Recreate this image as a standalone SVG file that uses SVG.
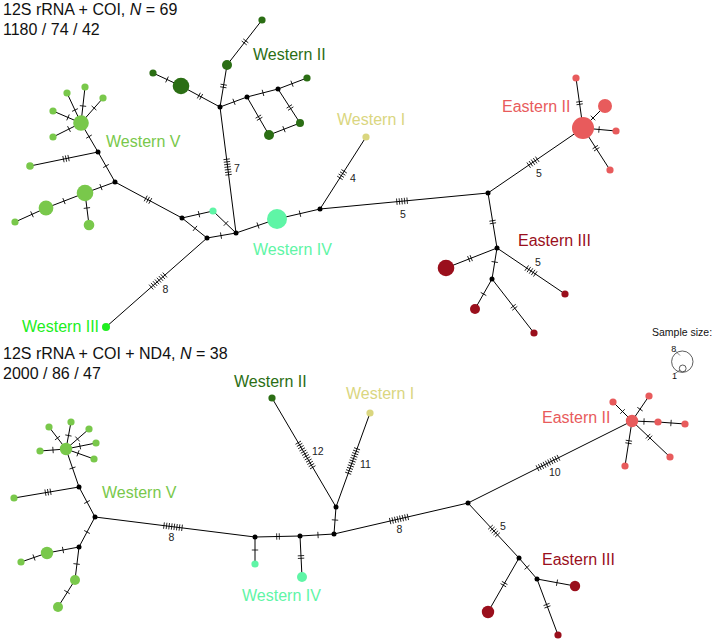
<svg xmlns="http://www.w3.org/2000/svg" xmlns:xlink="http://www.w3.org/1999/xlink" width="717" height="642" viewBox="0 0 717 642">
<style>
text{font-family:"Liberation Sans",Arial,sans-serif}
.title{font-size:16px;fill:#111}
.lab{font-size:16px}
.num{font-size:10.5px;fill:#222}
.edge{stroke:#000;stroke-width:1;fill:none}
.tk{stroke:#000;stroke-width:0.8;fill:none}
.j{fill:#000}
.wv{fill:#79c84b}.wii{fill:#2b6e14}.wi{fill:#dad67f}.wiv{fill:#5ff5a6}.wiii{fill:#20ee20}.eii{fill:#e85b5c}.eiii{fill:#9a0f1c}
</style>
<defs>
<path id="t1" class="tk" d="M0,-3.2V3.2"/>
<path id="t2" class="tk" d="M-1.3,-3.2V3.2M1.3,-3.2V3.2"/>
<path id="t3" class="tk" d="M-2.6,-3.2V3.2M0,-3.2V3.2M2.6,-3.2V3.2"/>
<path id="t4" class="tk" d="M-3.9,-3.2V3.2M-1.3,-3.2V3.2M1.3,-3.2V3.2M3.9,-3.2V3.2"/>
<path id="t5" class="tk" d="M-5.2,-3.2V3.2M-2.6,-3.2V3.2M0,-3.2V3.2M2.6,-3.2V3.2M5.2,-3.2V3.2"/>
<path id="t7" class="tk" d="M-7.8,-3.2V3.2M-5.2,-3.2V3.2M-2.6,-3.2V3.2M0,-3.2V3.2M2.6,-3.2V3.2M5.2,-3.2V3.2M7.8,-3.2V3.2"/>
<path id="t8" class="tk" d="M-9.1,-3.2V3.2M-6.5,-3.2V3.2M-3.9,-3.2V3.2M-1.3,-3.2V3.2M1.3,-3.2V3.2M3.9,-3.2V3.2M6.5,-3.2V3.2M9.1,-3.2V3.2"/>
<path id="t10" class="tk" d="M-11.7,-3.2V3.2M-9.1,-3.2V3.2M-6.5,-3.2V3.2M-3.9,-3.2V3.2M-1.3,-3.2V3.2M1.3,-3.2V3.2M3.9,-3.2V3.2M6.5,-3.2V3.2M9.1,-3.2V3.2M11.7,-3.2V3.2"/>
<path id="t11" class="tk" d="M-13,-3.2V3.2M-10.4,-3.2V3.2M-7.8,-3.2V3.2M-5.2,-3.2V3.2M-2.6,-3.2V3.2M0,-3.2V3.2M2.6,-3.2V3.2M5.2,-3.2V3.2M7.8,-3.2V3.2M10.4,-3.2V3.2M13,-3.2V3.2"/>
<path id="t12" class="tk" d="M-14.3,-3.2V3.2M-11.7,-3.2V3.2M-9.1,-3.2V3.2M-6.5,-3.2V3.2M-3.9,-3.2V3.2M-1.3,-3.2V3.2M1.3,-3.2V3.2M3.9,-3.2V3.2M6.5,-3.2V3.2M9.1,-3.2V3.2M11.7,-3.2V3.2M14.3,-3.2V3.2"/>
</defs>
<rect width="717" height="642" fill="#fff"/>

<g id="titles">
<text class="title" x="3" y="15">12S rRNA + COI, <tspan font-style="italic">N</tspan> = 69</text>
<text class="title" x="3" y="35">1180 / 74 / 42</text>
<text class="title" x="3" y="359">12S rRNA + COI + ND4, <tspan font-style="italic">N</tspan> = 38</text>
<text class="title" x="3" y="379">2000 / 86 / 47</text>
</g>

<g id="connectors">
<path class="edge" d="M81,123L67,93M81,123L85,87M81,123L103,98M81,123L53,111M81,123L53,137M81,123L98,152M98,152L30,166M98,152L115,182M115,182L85,193M85,193L46,208M46,208L15,222M85,193L89,225M115,182L182,218M182,218L213,211M182,218L207,238M213,211L236,233M207,238L236,233M207,238L106,327M236,233L220,107M220,107L227,65M227,65L262,20M220,107L181,86M181,86L153,73M220,107L247,97M247,97L278,89M278,89L307,78M278,89L300,123M300,123L269,135M247,97L269,135M236,233L277,219M277,219L320,209M320,209L366,137M320,209L488,193M488,193L583,128M583,128L576,78M583,128L605,106M583,128L616,131M583,128L610,170M488,193L497,248M497,248L446,268M497,248L492,279M497,248L565,294M492,279L475,309M492,279L534,333"/>
<path class="edge" d="M66,449L49,427M66,449L71,422M66,449L89,429M66,449L96,443M66,449L94,459M66,449L40,451M66,449L79,487M79,487L14,498M79,487L95,517M95,517L79,547M79,547L47,553M47,553L21,562M79,547L75,580M75,580L58,607M95,517L255,537M255,537L255,564M255,537L300,536M300,536L302,577M300,536L334,534M334,534L336,507M336,507L272,398M336,507L370,413M334,534L468,503M468,503L632,421M632,421L613,402M632,421L649,396M632,421L658,422M658,422L685,424M632,421L670,457M632,421L625,466M468,503L519,558M519,558L537,579M537,579L575,586M519,558L488,612M537,579L558,635"/>
<g id="ticks-top">
<use href="#t1" transform="translate(75,110) rotate(-115)"/>
<use href="#t1" transform="translate(83,106) rotate(-83.7)"/>
<use href="#t1" transform="translate(94,108) rotate(-48.7)"/>
<use href="#t1" transform="translate(68,117.4) rotate(23)"/>
<use href="#t1" transform="translate(69,129) rotate(-26.6)"/>
<use href="#t1" transform="translate(89,136.6) rotate(59.6)"/>
<use href="#t3" transform="translate(66,158.6) rotate(-11.6)"/>
<use href="#t1" transform="translate(106,166) rotate(60.5)"/>
<use href="#t1" transform="translate(101,187.1) rotate(-20.1)"/>
<use href="#t1" transform="translate(64,201.1) rotate(-21)"/>
<use href="#t1" transform="translate(32,214.3) rotate(-24.3)"/>
<use href="#t1" transform="translate(86.9,208) rotate(82.9)"/>
<use href="#t3" transform="translate(148,199.7) rotate(28.2)"/>
<use href="#t1" transform="translate(199,214.2) rotate(-12.7)"/>
<use href="#t1" transform="translate(195,228.4) rotate(38.7)"/>
<use href="#t1" transform="translate(226,223.4) rotate(43.7)"/>
<use href="#t1" transform="translate(221,235.6) rotate(-9.8)"/>
<use href="#t8" transform="translate(158,281) rotate(-41.4)"/>
<use href="#t7" transform="translate(227.6,167) rotate(82.8)"/>
<use href="#t2" transform="translate(223.5,86) rotate(-80.5)"/>
<use href="#t2" transform="translate(245,41.9) rotate(-52.1)"/>
<use href="#t2" transform="translate(200,96.2) rotate(28.3)"/>
<use href="#t1" transform="translate(167,79.5) rotate(24.9)"/>
<use href="#t1" transform="translate(234,101.8) rotate(-20.3)"/>
<use href="#t1" transform="translate(263,92.9) rotate(-14.5)"/>
<use href="#t1" transform="translate(292,83.7) rotate(-20.8)"/>
<use href="#t2" transform="translate(290,107.5) rotate(57.1)"/>
<use href="#t1" transform="translate(284,129.2) rotate(-21.2)"/>
<use href="#t2" transform="translate(259,117.7) rotate(59.9)"/>
<use href="#t1" transform="translate(258,225.5) rotate(-18.9)"/>
<use href="#t1" transform="translate(300,213.7) rotate(-13.1)"/>
<use href="#t4" transform="translate(342,174.6) rotate(-57.4)"/>
<use href="#t5" transform="translate(402,201.2) rotate(-5.4)"/>
<use href="#t5" transform="translate(533,162.2) rotate(-34.4)"/>
<use href="#t2" transform="translate(579.5,103) rotate(82)"/>
<use href="#t1" transform="translate(593,118) rotate(-45)"/>
<use href="#t1" transform="translate(599,129.5) rotate(5.2)"/>
<use href="#t2" transform="translate(596,148.2) rotate(57.3)"/>
<use href="#t2" transform="translate(492.7,222) rotate(80.7)"/>
<use href="#t2" transform="translate(470,258.6) rotate(-21.4)"/>
<use href="#t1" transform="translate(494.7,262) rotate(99.2)"/>
<use href="#t5" transform="translate(531,271) rotate(34.1)"/>
<use href="#t1" transform="translate(483.5,294) rotate(119.5)"/>
<use href="#t2" transform="translate(514,307.3) rotate(52.1)"/>
</g>
<g id="ticks-bottom">
<use href="#t1" transform="translate(57.5,438) rotate(52.3)"/>
<use href="#t1" transform="translate(68.4,435.5) rotate(-79.5)"/>
<use href="#t1" transform="translate(77.5,439) rotate(-41)"/>
<use href="#t1" transform="translate(80,446.2) rotate(-11.3)"/>
<use href="#t1" transform="translate(78,453.3) rotate(19.7)"/>
<use href="#t1" transform="translate(53,450) rotate(-4.4)"/>
<use href="#t1" transform="translate(72.5,468) rotate(71.1)"/>
<use href="#t3" transform="translate(48,492.2) rotate(-9.6)"/>
<use href="#t1" transform="translate(87,502) rotate(61.9)"/>
<use href="#t1" transform="translate(87,532) rotate(118.1)"/>
<use href="#t1" transform="translate(63,550) rotate(-10.6)"/>
<use href="#t1" transform="translate(34,557.5) rotate(-19.1)"/>
<use href="#t1" transform="translate(76.6,564) rotate(96.9)"/>
<use href="#t1" transform="translate(67,592) rotate(122.2)"/>
<use href="#t8" transform="translate(173,526.7) rotate(7.1)"/>
<use href="#t1" transform="translate(255,550) rotate(90)"/>
<use href="#t2" transform="translate(278,536.5) rotate(-1.3)"/>
<use href="#t2" transform="translate(301,557) rotate(87.2)"/>
<use href="#t1" transform="translate(318,535) rotate(-3.4)"/>
<use href="#t1" transform="translate(335,520) rotate(-85.8)"/>
<use href="#t12" transform="translate(305.5,455) rotate(59.6)"/>
<use href="#t11" transform="translate(352.6,461) rotate(-70.1)"/>
<use href="#t8" transform="translate(399,519) rotate(-13)"/>
<use href="#t10" transform="translate(548,463) rotate(-26.6)"/>
<use href="#t1" transform="translate(622.5,411.5) rotate(45)"/>
<use href="#t1" transform="translate(640,409.2) rotate(-55.8)"/>
<use href="#t1" transform="translate(644,421.5) rotate(2.2)"/>
<use href="#t1" transform="translate(671,423) rotate(4.2)"/>
<use href="#t2" transform="translate(649,437.1) rotate(43.5)"/>
<use href="#t2" transform="translate(628.7,442) rotate(98.8)"/>
<use href="#t5" transform="translate(494,531) rotate(47.2)"/>
<use href="#t1" transform="translate(527,567.3) rotate(49.4)"/>
<use href="#t1" transform="translate(557,582.7) rotate(10.4)"/>
<use href="#t2" transform="translate(504,584.1) rotate(119.9)"/>
<use href="#t2" transform="translate(547,605.7) rotate(69.4)"/>
</g>
</g>

<g id="nodes-top">
<g id="t-wv-hub"><circle class="wv" cx="81" cy="123" r="7.8"/></g>
<g id="t-wv-1"><circle class="wv" cx="67" cy="93" r="3.6"/></g>
<g id="t-wv-2"><circle class="wv" cx="85" cy="87" r="3.6"/></g>
<g id="t-wv-3"><circle class="wv" cx="103" cy="98" r="3.6"/></g>
<g id="t-wv-4"><circle class="wv" cx="53" cy="111" r="3.6"/></g>
<g id="t-wv-5"><circle class="wv" cx="53" cy="137" r="3.6"/></g>
<g id="t-wv-6"><circle class="wv" cx="30" cy="166" r="3.8"/></g>
<g id="t-wv-7"><circle class="wv" cx="85" cy="193" r="8.3"/></g>
<g id="t-wv-8"><circle class="wv" cx="46" cy="208" r="7.4"/></g>
<g id="t-wv-9"><circle class="wv" cx="15" cy="222" r="3.6"/></g>
<g id="t-wv-10"><circle class="wv" cx="89" cy="225" r="5.3"/></g>
<g id="t-wii-1"><circle class="wii" cx="262" cy="20" r="3.6"/></g>
<g id="t-wii-2"><circle class="wii" cx="227" cy="65" r="5"/></g>
<g id="t-wii-3"><circle class="wii" cx="181" cy="86" r="8.3"/></g>
<g id="t-wii-4"><circle class="wii" cx="153" cy="73" r="3.6"/></g>
<g id="t-wii-5"><circle class="wii" cx="307" cy="78" r="3.6"/></g>
<g id="t-wii-6"><circle class="wii" cx="300" cy="123" r="4"/></g>
<g id="t-wii-7"><circle class="wii" cx="269" cy="135" r="5"/></g>
<g id="t-wiv-1"><circle class="wiv" cx="213" cy="211" r="3.6"/></g>
<g id="t-wiv-2"><circle class="wiv" cx="277" cy="219" r="10"/></g>
<g id="t-wi-1"><circle class="wi" cx="366" cy="137" r="3.6"/></g>
<g id="t-wiii-1"><circle class="wiii" cx="106" cy="327" r="4"/></g>
<g id="t-eii-hub"><circle class="eii" cx="583" cy="128" r="11"/></g>
<g id="t-eii-1"><circle class="eii" cx="576" cy="78" r="3.6"/></g>
<g id="t-eii-2"><circle class="eii" cx="605" cy="106" r="7"/></g>
<g id="t-eii-3"><circle class="eii" cx="616" cy="131" r="3.6"/></g>
<g id="t-eii-4"><circle class="eii" cx="610" cy="170" r="3.6"/></g>
<g id="t-eiii-1"><circle class="eiii" cx="446" cy="268" r="8.3"/></g>
<g id="t-eiii-2"><circle class="eiii" cx="475" cy="309" r="5"/></g>
<g id="t-eiii-3"><circle class="eiii" cx="534" cy="333" r="3.6"/></g>
<g id="t-eiii-4"><circle class="eiii" cx="565" cy="294" r="3.6"/></g>
<g id="t-junctions">
<circle class="j" cx="98" cy="152" r="2.5"/><circle class="j" cx="115" cy="182" r="2.5"/><circle class="j" cx="182" cy="218" r="2.5"/><circle class="j" cx="207" cy="238" r="2.5"/><circle class="j" cx="236" cy="233" r="2.5"/><circle class="j" cx="220" cy="107" r="2.5"/><circle class="j" cx="247" cy="97" r="2.5"/><circle class="j" cx="278" cy="89" r="2.5"/><circle class="j" cx="320" cy="209" r="2.5"/><circle class="j" cx="488" cy="193" r="2.5"/><circle class="j" cx="497" cy="248" r="2.5"/><circle class="j" cx="492" cy="279" r="2.5"/>
</g>
</g>

<g id="nodes-bottom">
<g id="b-wv-hub"><circle class="wv" cx="66" cy="449" r="6.2"/></g>
<g id="b-wv-1"><circle class="wv" cx="49" cy="427" r="3.6"/></g>
<g id="b-wv-2"><circle class="wv" cx="71" cy="422" r="3.6"/></g>
<g id="b-wv-3"><circle class="wv" cx="89" cy="429" r="3.6"/></g>
<g id="b-wv-4"><circle class="wv" cx="96" cy="443" r="3.6"/></g>
<g id="b-wv-5"><circle class="wv" cx="94" cy="459" r="3.6"/></g>
<g id="b-wv-6"><circle class="wv" cx="40" cy="451" r="3.6"/></g>
<g id="b-wv-7"><circle class="wv" cx="14" cy="498" r="3.6"/></g>
<g id="b-wv-8"><circle class="wv" cx="47" cy="553" r="6.2"/></g>
<g id="b-wv-9"><circle class="wv" cx="21" cy="562" r="3.6"/></g>
<g id="b-wv-10"><circle class="wv" cx="75" cy="580" r="5"/></g>
<g id="b-wv-11"><circle class="wv" cx="58" cy="607" r="5"/></g>
<g id="b-wiv-1"><circle class="wiv" cx="255" cy="564" r="3.6"/></g>
<g id="b-wiv-2"><circle class="wiv" cx="302" cy="577" r="5"/></g>
<g id="b-wii-1"><circle class="wii" cx="272" cy="398" r="3.6"/></g>
<g id="b-wi-1"><circle class="wi" cx="370" cy="413" r="3.6"/></g>
<g id="b-eii-hub"><circle class="eii" cx="632" cy="421" r="6.2"/></g>
<g id="b-eii-1"><circle class="eii" cx="613" cy="402" r="3.6"/></g>
<g id="b-eii-2"><circle class="eii" cx="649" cy="396" r="3.6"/></g>
<g id="b-eii-3"><circle class="eii" cx="658" cy="422" r="3.6"/></g>
<g id="b-eii-4"><circle class="eii" cx="685" cy="424" r="3.6"/></g>
<g id="b-eii-5"><circle class="eii" cx="670" cy="457" r="3.6"/></g>
<g id="b-eii-6"><circle class="eii" cx="625" cy="466" r="3.6"/></g>
<g id="b-eiii-1"><circle class="eiii" cx="575" cy="586" r="5.2"/></g>
<g id="b-eiii-2"><circle class="eiii" cx="488" cy="612" r="6.2"/></g>
<g id="b-eiii-3"><circle class="eiii" cx="558" cy="635" r="3.6"/></g>
<g id="b-junctions">
<circle class="j" cx="79" cy="487" r="2.5"/><circle class="j" cx="95" cy="517" r="2.5"/><circle class="j" cx="79" cy="547" r="2.5"/><circle class="j" cx="255" cy="537" r="2.5"/><circle class="j" cx="300" cy="536" r="2.5"/><circle class="j" cx="334" cy="534" r="2.5"/><circle class="j" cx="336" cy="507" r="2.5"/><circle class="j" cx="468" cy="503" r="2.5"/><circle class="j" cx="519" cy="558" r="2.5"/><circle class="j" cx="537" cy="579" r="2.5"/>
</g>
</g>

<g id="labels">
<text class="lab wii" x="253" y="60">Western II</text>
<text class="lab wv" x="106" y="147">Western V</text>
<text class="lab wi" x="337" y="125">Western I</text>
<text class="lab wiv" x="253" y="255">Western IV</text>
<text class="lab wiii" x="22" y="332">Western III</text>
<text class="lab eii" x="502" y="112">Eastern II</text>
<text class="lab eiii" x="518" y="246">Eastern III</text>
<text class="lab wii" x="234" y="387">Western II</text>
<text class="lab wi" x="346" y="399">Western I</text>
<text class="lab wv" x="102" y="498">Western V</text>
<text class="lab wiv" x="242" y="601">Western IV</text>
<text class="lab eii" x="542" y="423">Eastern II</text>
<text class="lab eiii" x="542" y="565">Eastern III</text>
</g>

<g id="mutation-counts">
<text class="num" x="234" y="172">7</text>
<text class="num" x="350" y="182">4</text>
<text class="num" x="400" y="218">5</text>
<text class="num" x="536" y="177">5</text>
<text class="num" x="535" y="266">5</text>
<text class="num" x="162.5" y="293">8</text>
<text class="num" x="168.5" y="541">8</text>
<text class="num" x="312" y="455">12</text>
<text class="num" x="360" y="468">11</text>
<text class="num" x="396.5" y="533">8</text>
<text class="num" x="549" y="476">10</text>
<text class="num" x="500" y="530">5</text>
</g>

<g id="legend">
<text x="652" y="336" style="font-size:10.5px;fill:#111">Sample size:</text>
<circle cx="682.3" cy="361.7" r="10.7" fill="none" stroke="#333" stroke-width="0.8"/>
<circle cx="682.7" cy="368.4" r="3.4" fill="none" stroke="#333" stroke-width="0.8"/>
<path d="M675,350.5L680,355.5M675,373.5L680,370" stroke="#333" stroke-width="0.6" fill="none"/>
<text x="671.3" y="352" style="font-size:9px;fill:#111">8</text>
<text x="672" y="378.5" style="font-size:9px;fill:#111">1</text>
</g>
</svg>
